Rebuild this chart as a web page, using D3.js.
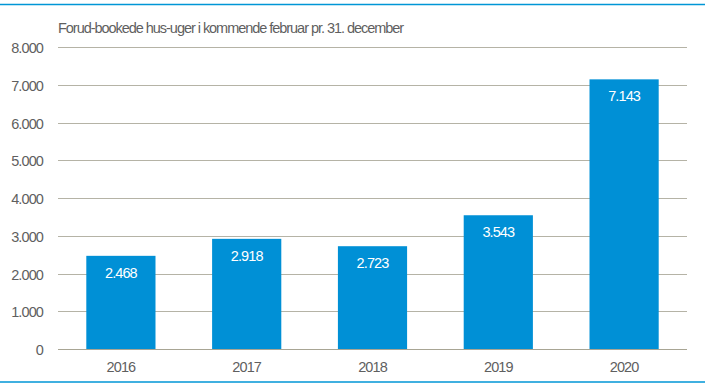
<!DOCTYPE html>
<html><head><meta charset="utf-8">
<script src="https://cdn.jsdelivr.net/npm/d3@7"></script>
<style>body{margin:0;background:#fff;}svg{display:block;}</style>
</head><body>
<svg id="c" width="705" height="390"></svg>
<script>
const title = "Forud-bookede hus-uger i kommende februar pr. 31. december";
const categories = ["2016", "2017", "2018", "2019", "2020"];
const values = [2468, 2918, 2723, 3543, 7143];
const yTicks = [0, 1000, 2000, 3000, 4000, 5000, 6000, 7000, 8000];

const svg = d3.select("#c");
const W = 705, H = 390;
const m = {left: 58, right: 18, top: 47, bottom: 41};
const x = d3.scaleBand().domain(categories).range([m.left, W - m.right]).paddingInner(0.45).paddingOuter(0.225);
const y = d3.scaleLinear().domain([0, 8000]).range([H - m.bottom, m.top]);
const fmt = v => d3.format(",")(v).replace(/,/g, ".");
const font = "'Liberation Sans', Arial, sans-serif";
const fs = 14.5, ls = "-0.9";
const txt = "#5f5f5f";

// frame lines
svg.append("line").attr("x1", 0).attr("x2", W).attr("y1", 4.5).attr("y2", 4.5).attr("stroke", "#0096D6").attr("stroke-width", 1.5);
svg.append("line").attr("x1", 0).attr("x2", W).attr("y1", 382).attr("y2", 382).attr("stroke", "#0096D6").attr("stroke-width", 1.5);

// gridlines
svg.append("g").selectAll("line").data(yTicks).join("line")
  .attr("x1", m.left).attr("x2", W - m.right)
  .attr("y1", d => Math.round(y(d)) + 0.5).attr("y2", d => Math.round(y(d)) + 0.5)
  .attr("stroke", d => d === 0 ? "#A8A594" : "#B5B3A6").attr("stroke-width", 1);

// y axis labels
const yAxis = d3.axisLeft(y).tickValues(yTicks).tickFormat(fmt).tickSize(0).tickPadding(0);
const ya = svg.append("g").attr("transform", `translate(${m.left - 15},0)`).call(yAxis);
ya.select(".domain").remove();
ya.selectAll("text").attr("font-family", font).attr("font-size", fs).attr("letter-spacing", ls)
  .attr("fill", txt).attr("dy", "0").attr("y", 5.5);

// x axis labels
const xAxis = d3.axisBottom(x).tickSize(0).tickPadding(0);
const xa = svg.append("g").attr("transform", `translate(0,372)`).call(xAxis);
xa.select(".domain").remove();
xa.selectAll("text").attr("font-family", font).attr("font-size", fs).attr("letter-spacing", ls)
  .attr("fill", txt).attr("dy", "0").attr("y", 0);

// bars
svg.append("g").selectAll("rect").data(values).join("rect")
  .attr("x", (d, i) => x(categories[i])).attr("width", x.bandwidth())
  .attr("y", d => y(d)).attr("height", d => y(0) - y(d))
  .attr("fill", "#0090D6");

// bar labels
svg.append("g").selectAll("text").data(values).join("text")
  .attr("x", (d, i) => x(categories[i]) + x.bandwidth() / 2)
  .attr("y", d => y(d) + 22)
  .attr("text-anchor", "middle").attr("font-family", font).attr("font-size", fs).attr("letter-spacing", ls)
  .attr("fill", "#ffffff").text(fmt);

// title
svg.append("text").attr("x", m.left).attr("y", 33).attr("font-family", font).attr("font-size", fs)
  .attr("letter-spacing", "-1.04").attr("fill", txt).text(title);
</script>
</body></html>
